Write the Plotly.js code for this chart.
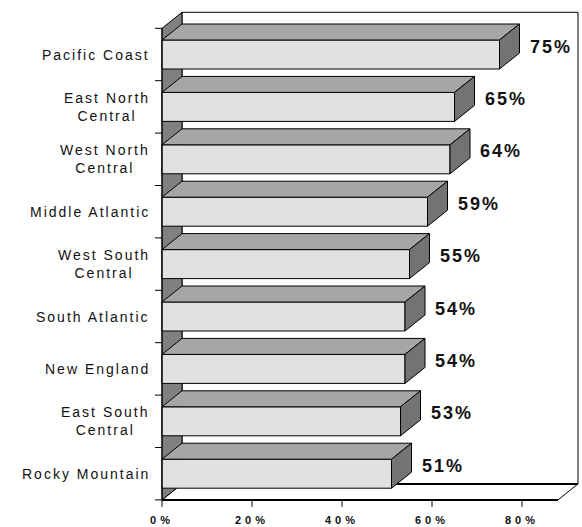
<!DOCTYPE html>
<html>
<head>
<meta charset="utf-8">
<script src="https://cdn.plot.ly/plotly-3.0.1.min.js"></script>
<style>
html, body { margin: 0; padding: 0; background: #ffffff; }
#chart { width: 582px; height: 527px; }
.xtick text { letter-spacing: 4px; }
.annotation-text { letter-spacing: 2px; }
</style>
</head>
<body>
<div id="chart"></div>
<script>
// ---- data (top to bottom as shown) ----
var categories = ['Pacific Coast', 'East North<br>Central', 'West North<br>Central', 'Middle Atlantic',
                  'West South<br>Central', 'South Atlantic', 'New England', 'East South<br>Central', 'Rocky Mountain'];
var values = [75, 65, 64, 59, 55, 54, 54, 53, 51];
var valueLabels = ['75%', '65%', '64%', '59%', '55%', '54%', '54%', '53%', '51%'];
var xTickVals = [0, 20, 40, 60, 80];
var xTickText = ['0%', '20%', '40%', '60%', '80%'];

// ---- geometry / styling ----
var X_MAX = 88;          // end of the floor
var PX_X = 4.5;          // pixels per x unit
var PX_Y = 52.4;         // pixels per category
var DX = 20 / PX_X;      // depth offset (x)
var DY = 16 / PX_Y;      // depth offset (y, upwards)
var H = 0.2767;          // half bar thickness
var n = categories.length;
var FRONT = '#e1e1e1', TOPC = '#a6a6a6', SIDE = '#737373', WALL = '#808080';

var pos = categories.map(function (c, i) { return i; });
var yTop = -0.5, yBot = n - 0.5;

var shapes = [];
// back wall
shapes.push({type: 'rect', layer: 'below', xref: 'x', yref: 'y',
  x0: DX, x1: X_MAX + DX, y0: yTop - DY, y1: yBot - DY,
  fillcolor: '#ffffff', line: {color: '#000', width: 1}});
// floor
shapes.push({type: 'path', layer: 'below', xref: 'x', yref: 'y',
  path: 'M0,' + yBot + 'L' + X_MAX + ',' + yBot + 'L' + (X_MAX + DX) + ',' + (yBot - DY) + 'L' + DX + ',' + (yBot - DY) + 'Z',
  fillcolor: '#ffffff', line: {color: '#000', width: 1}});
// left wall
shapes.push({type: 'path', layer: 'below', xref: 'x', yref: 'y',
  path: 'M0,' + yTop + 'L' + DX + ',' + (yTop - DY) + 'L' + DX + ',' + (yBot - DY) + 'L0,' + yBot + 'Z',
  fillcolor: WALL, line: {color: '#000', width: 1}});
// thick floor edges
shapes.push({type: 'line', layer: 'below', xref: 'x', yref: 'y',
  x0: DX, x1: X_MAX + DX, y0: yBot - DY, y1: yBot - DY, line: {color: '#000', width: 2}});
shapes.push({type: 'line', layer: 'above', xref: 'x', yref: 'y',
  x0: 0, x1: X_MAX, y0: yBot, y1: yBot, line: {color: '#000', width: 2}});
// front-left axis line
shapes.push({type: 'line', layer: 'above', xref: 'x', yref: 'y',
  x0: 0, x1: 0, y0: yTop, y1: yBot, line: {color: '#000', width: 1}});
// y tick marks at category boundaries
for (var k = 0; k <= n; k++) {
  shapes.push({type: 'line', layer: 'above', xref: 'x', yref: 'y',
    x0: -7 / PX_X, x1: 0, y0: k - 0.5, y1: k - 0.5, line: {color: '#000', width: 1}});
}
// x tick marks
xTickVals.forEach(function (t) {
  shapes.push({type: 'line', layer: 'above', xref: 'x', yref: 'y',
    x0: t, x1: t, y0: yBot, y1: yBot + 7 / PX_Y, line: {color: '#000', width: 1}});
});
// 3D bar faces
values.forEach(function (v, i) {
  var t = pos[i] - H, b = pos[i] + H;
  shapes.push({type: 'path', layer: 'above', xref: 'x', yref: 'y',
    path: 'M0,' + t + 'L' + v + ',' + t + 'L' + (v + DX) + ',' + (t - DY) + 'L' + DX + ',' + (t - DY) + 'Z',
    fillcolor: TOPC, line: {color: '#000', width: 1}});
  shapes.push({type: 'path', layer: 'above', xref: 'x', yref: 'y',
    path: 'M' + v + ',' + t + 'L' + (v + DX) + ',' + (t - DY) + 'L' + (v + DX) + ',' + (b - DY) + 'L' + v + ',' + b + 'Z',
    fillcolor: SIDE, line: {color: '#000', width: 1}});
});

var annotations = [];
categories.forEach(function (c, i) {
  annotations.push({xref: 'x', yref: 'y', x: 0, y: pos[i], text: c, showarrow: false,
    xanchor: 'right', yanchor: 'middle', align: 'center', xshift: -10,
    font: {family: 'Liberation Sans, Arial, sans-serif', size: 14, color: '#111'}});
});
valueLabels.forEach(function (lab, i) {
  annotations.push({xref: 'x', yref: 'y', x: values[i] + DX, y: pos[i] - DY / 2, text: lab, showarrow: false,
    xanchor: 'left', yanchor: 'middle', xshift: 8,
    font: {family: 'Liberation Sans, Arial, sans-serif', size: 18, color: '#111', weight: 'bold'}});
});

var marginL = 153, marginR = 2, marginT = 10, marginB = 18;
var plotW = 582 - marginL - marginR, plotH = 527 - marginT - marginB;
var xLeft = -9 / PX_X;
var yTopRange = yTop - (28.3 - marginT) / PX_Y;

var trace = {
  type: 'bar', orientation: 'h', x: values, y: pos, width: 2 * H,
  marker: {color: FRONT, line: {color: '#000', width: 1}},
  hoverinfo: 'none', showlegend: false
};

var layout = {
  width: 582, height: 527, autosize: false,
  margin: {l: marginL, r: marginR, t: marginT, b: marginB, pad: 0},
  paper_bgcolor: '#ffffff', plot_bgcolor: 'rgba(0,0,0,0)',
  showlegend: false,
  xaxis: {range: [xLeft, xLeft + plotW / PX_X], showgrid: false, zeroline: false, showline: false,
    ticks: '', tickmode: 'array', tickvals: xTickVals, ticktext: xTickText, ticklabelstandoff: 3,
    tickfont: {family: 'Liberation Sans, Arial, sans-serif', size: 11, color: '#111', weight: 'bold'},
    fixedrange: true},
  yaxis: {type: 'linear', range: [yTopRange + plotH / PX_Y, yTopRange], showgrid: false, zeroline: false,
    showline: false, ticks: '', showticklabels: false, fixedrange: true},
  shapes: shapes,
  annotations: annotations
};

Plotly.newPlot('chart', [trace], layout, {displayModeBar: false, staticPlot: true});
</script>
</body>
</html>
